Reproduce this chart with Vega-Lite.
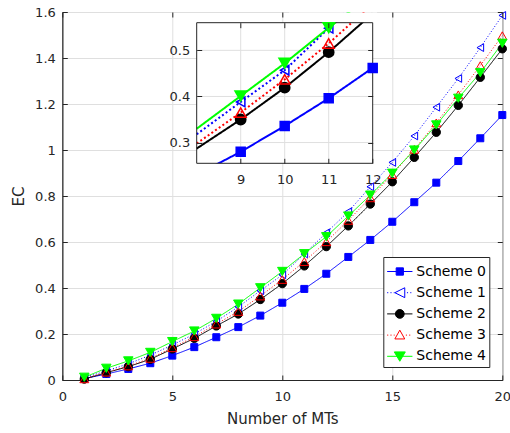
{
  "$schema": "https://vega.github.io/schema/vega-lite/v6.json",
  "autosize": "none",
  "width": 440,
  "height": 368,
  "padding": {"left": 62.3, "top": 12, "right": 7.7, "bottom": 53},
  "background": "white",
  "datasets": {
    "ec": [
      {"x": 1, "scheme": "Scheme 0", "ec": 0.006}, {"x": 2, "scheme": "Scheme 0", "ec": 0.026}, {"x": 3, "scheme": "Scheme 0", "ec": 0.048}, {"x": 4, "scheme": "Scheme 0", "ec": 0.073}, {"x": 5, "scheme": "Scheme 0", "ec": 0.106}, {"x": 6, "scheme": "Scheme 0", "ec": 0.143}, {"x": 7, "scheme": "Scheme 0", "ec": 0.186}, {"x": 8, "scheme": "Scheme 0", "ec": 0.230}, {"x": 9, "scheme": "Scheme 0", "ec": 0.280}, {"x": 10, "scheme": "Scheme 0", "ec": 0.336}, {"x": 11, "scheme": "Scheme 0", "ec": 0.396}, {"x": 12, "scheme": "Scheme 0", "ec": 0.462}, {"x": 13, "scheme": "Scheme 0", "ec": 0.535}, {"x": 14, "scheme": "Scheme 0", "ec": 0.609}, {"x": 15, "scheme": "Scheme 0", "ec": 0.688}, {"x": 16, "scheme": "Scheme 0", "ec": 0.773}, {"x": 17, "scheme": "Scheme 0", "ec": 0.858}, {"x": 18, "scheme": "Scheme 0", "ec": 0.952}, {"x": 19, "scheme": "Scheme 0", "ec": 1.051}, {"x": 20, "scheme": "Scheme 0", "ec": 1.152},
      {"x": 1, "scheme": "Scheme 1", "ec": 0.010}, {"x": 2, "scheme": "Scheme 1", "ec": 0.040}, {"x": 3, "scheme": "Scheme 1", "ec": 0.070}, {"x": 4, "scheme": "Scheme 1", "ec": 0.108}, {"x": 5, "scheme": "Scheme 1", "ec": 0.152}, {"x": 6, "scheme": "Scheme 1", "ec": 0.200}, {"x": 7, "scheme": "Scheme 1", "ec": 0.255}, {"x": 8, "scheme": "Scheme 1", "ec": 0.318}, {"x": 9, "scheme": "Scheme 1", "ec": 0.388}, {"x": 10, "scheme": "Scheme 1", "ec": 0.457}, {"x": 11, "scheme": "Scheme 1", "ec": 0.548}, {"x": 12, "scheme": "Scheme 1", "ec": 0.640}, {"x": 13, "scheme": "Scheme 1", "ec": 0.732}, {"x": 14, "scheme": "Scheme 1", "ec": 0.840}, {"x": 15, "scheme": "Scheme 1", "ec": 0.946}, {"x": 16, "scheme": "Scheme 1", "ec": 1.061}, {"x": 17, "scheme": "Scheme 1", "ec": 1.186}, {"x": 18, "scheme": "Scheme 1", "ec": 1.311}, {"x": 19, "scheme": "Scheme 1", "ec": 1.445}, {"x": 20, "scheme": "Scheme 1", "ec": 1.585},
      {"x": 1, "scheme": "Scheme 2", "ec": 0.004}, {"x": 2, "scheme": "Scheme 2", "ec": 0.032}, {"x": 3, "scheme": "Scheme 2", "ec": 0.058}, {"x": 4, "scheme": "Scheme 2", "ec": 0.090}, {"x": 5, "scheme": "Scheme 2", "ec": 0.135}, {"x": 6, "scheme": "Scheme 2", "ec": 0.181}, {"x": 7, "scheme": "Scheme 2", "ec": 0.235}, {"x": 8, "scheme": "Scheme 2", "ec": 0.287}, {"x": 9, "scheme": "Scheme 2", "ec": 0.350}, {"x": 10, "scheme": "Scheme 2", "ec": 0.419}, {"x": 11, "scheme": "Scheme 2", "ec": 0.496}, {"x": 12, "scheme": "Scheme 2", "ec": 0.580}, {"x": 13, "scheme": "Scheme 2", "ec": 0.670}, {"x": 14, "scheme": "Scheme 2", "ec": 0.765}, {"x": 15, "scheme": "Scheme 2", "ec": 0.862}, {"x": 16, "scheme": "Scheme 2", "ec": 0.968}, {"x": 17, "scheme": "Scheme 2", "ec": 1.077}, {"x": 18, "scheme": "Scheme 2", "ec": 1.194}, {"x": 19, "scheme": "Scheme 2", "ec": 1.316}, {"x": 20, "scheme": "Scheme 2", "ec": 1.440},
      {"x": 1, "scheme": "Scheme 3", "ec": 0.005}, {"x": 2, "scheme": "Scheme 3", "ec": 0.034}, {"x": 3, "scheme": "Scheme 3", "ec": 0.061}, {"x": 4, "scheme": "Scheme 3", "ec": 0.094}, {"x": 5, "scheme": "Scheme 3", "ec": 0.140}, {"x": 6, "scheme": "Scheme 3", "ec": 0.188}, {"x": 7, "scheme": "Scheme 3", "ec": 0.243}, {"x": 8, "scheme": "Scheme 3", "ec": 0.298}, {"x": 9, "scheme": "Scheme 3", "ec": 0.365}, {"x": 10, "scheme": "Scheme 3", "ec": 0.437}, {"x": 11, "scheme": "Scheme 3", "ec": 0.515}, {"x": 12, "scheme": "Scheme 3", "ec": 0.601}, {"x": 13, "scheme": "Scheme 3", "ec": 0.694}, {"x": 14, "scheme": "Scheme 3", "ec": 0.792}, {"x": 15, "scheme": "Scheme 3", "ec": 0.893}, {"x": 16, "scheme": "Scheme 3", "ec": 1.003}, {"x": 17, "scheme": "Scheme 3", "ec": 1.118}, {"x": 18, "scheme": "Scheme 3", "ec": 1.240}, {"x": 19, "scheme": "Scheme 3", "ec": 1.367}, {"x": 20, "scheme": "Scheme 3", "ec": 1.497},
      {"x": 1, "scheme": "Scheme 4", "ec": 0.012}, {"x": 2, "scheme": "Scheme 4", "ec": 0.051}, {"x": 3, "scheme": "Scheme 4", "ec": 0.083}, {"x": 4, "scheme": "Scheme 4", "ec": 0.120}, {"x": 5, "scheme": "Scheme 4", "ec": 0.167}, {"x": 6, "scheme": "Scheme 4", "ec": 0.213}, {"x": 7, "scheme": "Scheme 4", "ec": 0.268}, {"x": 8, "scheme": "Scheme 4", "ec": 0.330}, {"x": 9, "scheme": "Scheme 4", "ec": 0.401}, {"x": 10, "scheme": "Scheme 4", "ec": 0.472}, {"x": 11, "scheme": "Scheme 4", "ec": 0.549}, {"x": 12, "scheme": "Scheme 4", "ec": 0.623}, {"x": 13, "scheme": "Scheme 4", "ec": 0.713}, {"x": 14, "scheme": "Scheme 4", "ec": 0.804}, {"x": 15, "scheme": "Scheme 4", "ec": 0.899}, {"x": 16, "scheme": "Scheme 4", "ec": 1.000}, {"x": 17, "scheme": "Scheme 4", "ec": 1.109}, {"x": 18, "scheme": "Scheme 4", "ec": 1.225}, {"x": 19, "scheme": "Scheme 4", "ec": 1.336}, {"x": 20, "scheme": "Scheme 4", "ec": 1.464}
    ]
  },
  "layer": [
    {
      "data": {"name": "ec"},
      "encoding": {
        "x": {"field": "x", "type": "quantitative", "scale": {"domain": [0, 20], "nice": false, "zero": false}, "axis": {"values": [0, 5, 10, 15, 20], "title": "Number of MTs", "grid": true}},
        "y": {"field": "ec", "type": "quantitative", "scale": {"domain": [0, 1.6], "nice": false}, "axis": {"values": [0, 0.2, 0.4, 0.6, 0.8, 1, 1.2, 1.4, 1.6], "format": "~g", "title": "EC", "grid": true}}
      },
      "layer": [
        {
          "mark": {"type": "line", "strokeWidth": 1},
          "encoding": {
            "stroke": {"field": "scheme", "type": "nominal", "scale": {"domain": ["Scheme 0", "Scheme 1", "Scheme 2", "Scheme 3", "Scheme 4"], "range": ["#0000ff", "#0000ff", "#000000", "#ff0000", "#00ff00"]}, "legend": null},
            "strokeDash": {"field": "scheme", "type": "nominal", "scale": {"domain": ["Scheme 0", "Scheme 1", "Scheme 2", "Scheme 3", "Scheme 4"], "range": [[1, 0], [1, 2], [1, 0], [1, 2], [1, 0]]}, "legend": null}
          }
        },
        {
          "mark": {"type": "point", "filled": false, "strokeWidth": 1, "opacity": 1},
          "encoding": {
            "stroke": {"field": "scheme", "type": "nominal", "scale": {"domain": ["Scheme 0", "Scheme 1", "Scheme 2", "Scheme 3", "Scheme 4"], "range": ["#0000ff", "#0000ff", "#000000", "#ff0000", "#00ff00"]}, "legend": null},
            "fill": {"field": "scheme", "type": "nominal", "scale": {"domain": ["Scheme 0", "Scheme 1", "Scheme 2", "Scheme 3", "Scheme 4"], "range": ["#0000ff", "transparent", "#000000", "transparent", "#00ff00"]}, "legend": null},
            "shape": {"field": "scheme", "type": "nominal", "scale": {"domain": ["Scheme 0", "Scheme 1", "Scheme 2", "Scheme 3", "Scheme 4"], "range": ["square", "triangle-left", "circle", "triangle-up", "triangle-down"]}, "legend": null},
            "size": {"field": "scheme", "type": "nominal", "scale": {"domain": ["Scheme 0", "Scheme 1", "Scheme 2", "Scheme 3", "Scheme 4"], "range": [49, 90, 81, 100, 144]}, "legend": null}
          }
        },
        {
          "transform": [{"filter": "datum.x < 0"}],
          "mark": {"type": "point", "filled": false, "strokeWidth": 1, "opacity": 1, "size": 484},
          "encoding": {
            "stroke": {"field": "scheme", "type": "nominal", "scale": {"domain": ["Scheme 0", "Scheme 1", "Scheme 2", "Scheme 3", "Scheme 4"], "range": ["#0000ff", "#0000ff", "#000000", "#ff0000", "#00ff00"]}, "legend": {"title": null}},
            "fill": {"field": "scheme", "type": "nominal", "scale": {"domain": ["Scheme 0", "Scheme 1", "Scheme 2", "Scheme 3", "Scheme 4"], "range": ["#0000ff", "transparent", "#000000", "transparent", "#00ff00"]}, "legend": {"title": null}},
            "shape": {"field": "scheme", "type": "nominal", "scale": {"domain": ["Scheme 0", "Scheme 1", "Scheme 2", "Scheme 3", "Scheme 4"], "range": [
              "M-1.15,0H1.15M-0.33,-0.33H0.33V0.33H-0.33Z",
              "M-1.15,0H-1.05M-0.85,0H-0.75M-0.55,0H-0.47M-0.45,0L0.45,-0.45L0.45,0.45ZM0.65,0H0.75M0.95,0H1.05",
              "M-1.15,0H1.15M-0.4,0A0.4,0.4,0,1,0,0.4,0A0.4,0.4,0,1,0,-0.4,0Z",
              "M-1.15,0H-1.05M-0.85,0H-0.75M-0.55,0H-0.47M0,-0.45L0.45,0.35L-0.45,0.35ZM0.55,0H0.65M0.85,0H0.95",
              "M-1.15,0H1.15M-0.5,-0.4L0.5,-0.4L0,0.45Z"
            ]}, "legend": {"title": null, "orient": "none", "legendX": 321, "legendY": 245, "symbolSize": 484, "symbolStrokeWidth": 1, "padding": 3, "symbolOffset": 2, "labelOffset": 5, "rowPadding": 2.2, "labelFont": "DejaVu Sans", "labelFontSize": 14, "labelColor": "#000000", "strokeColor": "#262626", "fillColor": "white"}}
          }
        }
      ],
      "resolve": {"scale": {"stroke": "independent", "fill": "independent", "shape": "independent", "strokeDash": "independent", "size": "independent"}}
    },
    {
      "data": {"name": "ec"},
      "transform": [{"filter": "datum.scheme == 'Scheme 0' && datum.x == 1"}],
      "mark": {"type": "point", "opacity": 0},
      "encoding": {
        "x": {"field": "x", "type": "quantitative", "scale": {"domain": [0, 20], "nice": false, "zero": false}, "axis": {"orient": "top", "values": [0, 5, 10, 15, 20], "title": null, "grid": false, "labels": false, "domain": false, "zindex": 1}},
        "y": {"field": "ec", "type": "quantitative", "scale": {"domain": [0, 1.6], "nice": false}, "axis": {"orient": "right", "values": [0, 0.2, 0.4, 0.6, 0.8, 1, 1.2, 1.4, 1.6], "title": null, "grid": false, "labels": false, "domain": false, "zindex": 1}}
      }
    },
    {
      "data": {"name": "ec"},
      "layer": [
        {
          "transform": [{"filter": "datum.scheme == 'Scheme 0' && datum.x == 8"}],
          "mark": {"type": "rect", "fill": "white", "strokeWidth": 0},
          "encoding": {
            "x": {"datum": 8, "type": "quantitative", "scale": {"domain": [8, 12], "range": [134.4, 310.4], "nice": false, "zero": false}, "axis": {"orient": "bottom", "offset": -216.7, "values": [9, 10, 11, 12], "title": null, "grid": false, "domain": false, "zindex": 1}},
            "x2": {"datum": 12},
            "y": {"datum": 0.255, "type": "quantitative", "scale": {"domain": [0.255, 0.56], "range": [151.3, 10.7], "nice": false, "zero": false}, "axis": {"orient": "left", "offset": -134.4, "values": [0.3, 0.4, 0.5], "format": ".1f", "title": null, "grid": false, "domain": false, "zindex": 1}},
            "y2": {"datum": 0.56}
          }
        },
        {
          "transform": [{"filter": "datum.scheme == 'Scheme 0' && datum.x >= 9 && datum.x <= 11"}],
          "mark": {"type": "rule", "color": "#dfdfdf", "strokeWidth": 1},
          "encoding": {
            "x": {"field": "x", "type": "quantitative", "scale": {"domain": [8, 12], "range": [134.4, 310.4], "nice": false, "zero": false}, "axis": {"orient": "bottom", "offset": -216.7, "values": [9, 10, 11, 12], "title": null, "grid": false, "domain": false, "zindex": 1}},
            "y": {"datum": 0.255, "type": "quantitative", "scale": {"domain": [0.255, 0.56], "range": [151.3, 10.7], "nice": false, "zero": false}, "axis": {"orient": "left", "offset": -134.4, "values": [0.3, 0.4, 0.5], "format": ".1f", "title": null, "grid": false, "domain": false, "zindex": 1}},
            "y2": {"datum": 0.56}
          }
        },
        {
          "data": {"values": [{"gy": 0.3}, {"gy": 0.4}, {"gy": 0.5}]},
          "mark": {"type": "rule", "color": "#dfdfdf", "strokeWidth": 1},
          "encoding": {
            "y": {"field": "gy", "type": "quantitative", "scale": {"domain": [0.255, 0.56], "range": [151.3, 10.7], "nice": false, "zero": false}, "axis": {"orient": "left", "offset": -134.4, "values": [0.3, 0.4, 0.5], "format": ".1f", "title": null, "grid": false, "domain": false, "zindex": 1}},
            "x": {"datum": 8, "type": "quantitative", "scale": {"domain": [8, 12], "range": [134.4, 310.4], "nice": false, "zero": false}, "axis": {"orient": "bottom", "offset": -216.7, "values": [9, 10, 11, 12], "title": null, "grid": false, "domain": false, "zindex": 1}},
            "x2": {"datum": 12}
          }
        },
        {
          "transform": [{"filter": "datum.x >= 8 && datum.x <= 12"}],
          "mark": {"type": "line", "strokeWidth": 2, "clip": true},
          "encoding": {
            "x": {"field": "x", "type": "quantitative", "scale": {"domain": [8, 12], "range": [134.4, 310.4], "nice": false, "zero": false}, "axis": {"orient": "bottom", "offset": -216.7, "values": [9, 10, 11, 12], "title": null, "grid": false, "domain": false, "zindex": 1}},
            "y": {"field": "ec", "type": "quantitative", "scale": {"domain": [0.255, 0.56], "range": [151.3, 10.7], "nice": false, "zero": false}, "axis": {"orient": "left", "offset": -134.4, "values": [0.3, 0.4, 0.5], "format": ".1f", "title": null, "grid": false, "domain": false, "zindex": 1}},
            "stroke": {"field": "scheme", "type": "nominal", "scale": {"domain": ["Scheme 0", "Scheme 1", "Scheme 2", "Scheme 3", "Scheme 4"], "range": ["#0000ff", "#0000ff", "#000000", "#ff0000", "#00ff00"]}, "legend": null},
            "strokeDash": {"field": "scheme", "type": "nominal", "scale": {"domain": ["Scheme 0", "Scheme 1", "Scheme 2", "Scheme 3", "Scheme 4"], "range": [[1, 0], [2, 2.5], [1, 0], [2, 2.5], [1, 0]]}, "legend": null}
          }
        },
        {
          "transform": [{"filter": "datum.scheme == 'Scheme 0' && datum.x == 8"}],
          "mark": {"type": "rect", "fill": "white", "strokeWidth": 0},
          "encoding": {
            "x": {"datum": 10.1, "type": "quantitative", "scale": {"domain": [8, 12], "range": [134.4, 310.4], "nice": false, "zero": false}, "axis": {"orient": "bottom", "offset": -216.7, "values": [9, 10, 11, 12], "title": null, "grid": false, "domain": false, "zindex": 1}},
            "x2": {"datum": 12.1},
            "y": {"datum": 0.5602, "type": "quantitative", "scale": {"domain": [0.255, 0.56], "range": [151.3, 10.7], "nice": false, "zero": false}, "axis": {"orient": "left", "offset": -134.4, "values": [0.3, 0.4, 0.5], "format": ".1f", "title": null, "grid": false, "domain": false, "zindex": 1}},
            "y2": {"datum": 0.5821}
          }
        },
        {
          "transform": [{"filter": "datum.scheme == 'Scheme 0' && datum.x == 8"}],
          "mark": {"type": "rect", "fill": "white", "strokeWidth": 0},
          "encoding": {
            "x": {"datum": 7.95, "type": "quantitative", "scale": {"domain": [8, 12], "range": [134.4, 310.4], "nice": false, "zero": false}, "axis": {"orient": "bottom", "offset": -216.7, "values": [9, 10, 11, 12], "title": null, "grid": false, "domain": false, "zindex": 1}},
            "x2": {"datum": 8.7},
            "y": {"datum": 0.2, "type": "quantitative", "scale": {"domain": [0.255, 0.56], "range": [151.3, 10.7], "nice": false, "zero": false}, "axis": {"orient": "left", "offset": -134.4, "values": [0.3, 0.4, 0.5], "format": ".1f", "title": null, "grid": false, "domain": false, "zindex": 1}},
            "y2": {"datum": 0.2548}
          }
        },
        {
          "transform": [{"filter": "datum.scheme == 'Scheme 0' && datum.x == 8"}],
          "mark": {"type": "rect", "fill": "transparent", "stroke": "#262626", "strokeWidth": 1},
          "encoding": {
            "x": {"datum": 8, "type": "quantitative", "scale": {"domain": [8, 12], "range": [134.4, 310.4], "nice": false, "zero": false}, "axis": {"orient": "bottom", "offset": -216.7, "values": [9, 10, 11, 12], "title": null, "grid": false, "domain": false, "zindex": 1}},
            "x2": {"datum": 12},
            "y": {"datum": 0.255, "type": "quantitative", "scale": {"domain": [0.255, 0.56], "range": [151.3, 10.7], "nice": false, "zero": false}, "axis": {"orient": "left", "offset": -134.4, "values": [0.3, 0.4, 0.5], "format": ".1f", "title": null, "grid": false, "domain": false, "zindex": 1}},
            "y2": {"datum": 0.56}
          }
        },
        {
          "transform": [{"filter": "datum.x >= 9 && datum.x <= 12 && datum.ec >= 0.255 && datum.ec <= 0.56"}],
          "mark": {"type": "point", "filled": false, "strokeWidth": 1.5, "opacity": 1},
          "encoding": {
            "x": {"field": "x", "type": "quantitative", "scale": {"domain": [8, 12], "range": [134.4, 310.4], "nice": false, "zero": false}, "axis": {"orient": "bottom", "offset": -216.7, "values": [9, 10, 11, 12], "title": null, "grid": false, "domain": false, "zindex": 1}},
            "y": {"field": "ec", "type": "quantitative", "scale": {"domain": [0.255, 0.56], "range": [151.3, 10.7], "nice": false, "zero": false}, "axis": {"orient": "left", "offset": -134.4, "values": [0.3, 0.4, 0.5], "format": ".1f", "title": null, "grid": false, "domain": false, "zindex": 1}},
            "stroke": {"field": "scheme", "type": "nominal", "scale": {"domain": ["Scheme 0", "Scheme 1", "Scheme 2", "Scheme 3", "Scheme 4"], "range": ["#0000ff", "#0000ff", "#000000", "#ff0000", "#00ff00"]}, "legend": null},
            "fill": {"field": "scheme", "type": "nominal", "scale": {"domain": ["Scheme 0", "Scheme 1", "Scheme 2", "Scheme 3", "Scheme 4"], "range": ["#0000ff", "transparent", "#000000", "transparent", "#00ff00"]}, "legend": null},
            "shape": {"field": "scheme", "type": "nominal", "scale": {"domain": ["Scheme 0", "Scheme 1", "Scheme 2", "Scheme 3", "Scheme 4"], "range": ["square", "triangle-left", "circle", "triangle-up", "triangle-down"]}, "legend": null},
            "size": {"field": "scheme", "type": "nominal", "scale": {"domain": ["Scheme 0", "Scheme 1", "Scheme 2", "Scheme 3", "Scheme 4"], "range": [81, 130, 121, 144, 196]}, "legend": null}
          }
        }
      ]
    },
    {
      "data": {"name": "ec"},
      "transform": [{"filter": "datum.scheme == 'Scheme 0' && datum.x == 10"}],
      "mark": {"type": "point", "opacity": 0},
      "encoding": {
        "x": {"field": "x", "type": "quantitative", "scale": {"domain": [8, 12], "range": [134.4, 310.4], "nice": false, "zero": false}, "axis": {"orient": "top", "offset": -10.7, "values": [9, 10, 11], "title": null, "grid": false, "labels": false, "domain": false, "zindex": 1}},
        "y": {"field": "ec", "type": "quantitative", "scale": {"domain": [0.255, 0.56], "range": [151.3, 10.7], "nice": false, "zero": false}, "axis": {"orient": "right", "offset": -129.6, "values": [0.3, 0.4, 0.5], "title": null, "grid": false, "labels": false, "domain": false, "zindex": 1}}
      }
    }
  ],
  "resolve": {"scale": {"x": "independent", "y": "independent", "stroke": "independent", "fill": "independent", "shape": "independent", "strokeDash": "independent", "size": "independent"}},
  "config": {
    "font": "DejaVu Sans",
    "view": {"stroke": "#262626"},
    "axis": {
      "labelFont": "DejaVu Sans", "labelFontSize": 13, "labelColor": "#262626",
      "titleFont": "DejaVu Sans", "titleFontSize": 15, "titleFontWeight": "normal", "titleColor": "#262626",
      "domainColor": "#262626", "tickColor": "#262626", "gridColor": "#dfdfdf",
      "labelFlush": false, "labelOverlap": false, "tickSize": -5
    },
    "axisX": {"labelPadding": 15, "titlePadding": 8},
    "axisY": {"labelPadding": 12, "titlePadding": 8}
  }
}
